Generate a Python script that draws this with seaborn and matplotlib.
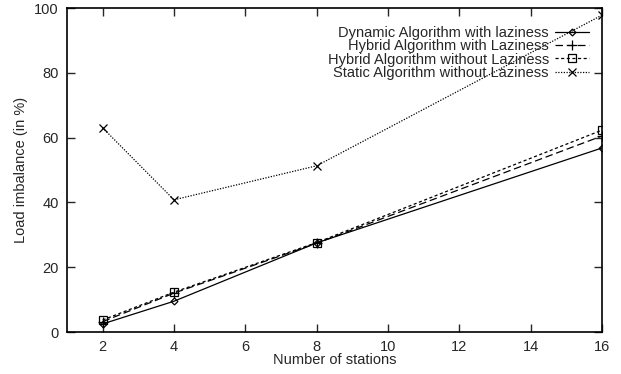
import matplotlib
matplotlib.use("Agg")
import matplotlib.pyplot as plt
import seaborn as sns
import pandas as pd

stations = [2, 4, 8, 16]
dynamic_lazy = [2.5, 9.5, 27.5, 56.8]
hybrid_lazy = [3.2, 12.0, 27.4, 60.5]
hybrid_nolazy = [3.7, 12.3, 27.6, 62.3]
static_nolazy = [63.0, 40.8, 51.3, 97.8]

labels = ["Dynamic Algorithm with laziness",
          "Hybrid Algorithm with Laziness",
          "Hybrid Algorithm without Laziness",
          "Static Algorithm without Laziness"]
x_ticks = [2, 4, 6, 8, 10, 12, 14, 16]
y_ticks = [0, 20, 40, 60, 80, 100]

sns.set_style("ticks")
plt.rcParams['font.family'] = ['Liberation Sans', 'DejaVu Sans']

fig = plt.figure(figsize=(6.21, 3.74), dpi=100)
ax = fig.add_axes([67/621, 1-332/374, (602-67)/621, (332-8)/374])

series = [dynamic_lazy, hybrid_lazy, hybrid_nolazy, static_nolazy]
styles = [
    dict(marker='D', markersize=3.5, dashes=None),
    dict(marker='+', markersize=7, dashes=(6, 3)),
    dict(marker='s', markersize=5.5, dashes=(2.5, 2)),
    dict(marker='x', markersize=6, dashes=(1, 1.2)),
]
for vals, lab, st in zip(series, labels, styles):
    df = pd.DataFrame({"x": stations, "y": vals})
    sns.lineplot(data=df, x="x", y="y", ax=ax, color='black', label=lab,
                 linewidth=0.9, marker=st['marker'], markersize=st['markersize'],
                 markerfacecolor='none', markeredgecolor='black',
                 markeredgewidth=0.9)
    l = ax.get_lines()[-1]
    if st['dashes'] is not None:
        l.set_dashes(st['dashes'])

ax.set_xlim(1, 16)
ax.set_ylim(0, 100)
ax.set_xticks(x_ticks)
ax.set_yticks(y_ticks)
ax.tick_params(direction='in', length=6, width=1, top=True, right=True,
               labelsize=10.5, pad=6)
for s in ax.spines.values():
    s.set_visible(True)
    s.set_linewidth(1.2)
    s.set_color('black')
ax.set_xlabel("Number of stations", fontsize=10.5, labelpad=-1)
ax.set_ylabel("Load imbalance (in %)", fontsize=10.5, labelpad=4)

leg = ax.legend(loc='upper right', bbox_to_anchor=(1.0, 0.985), markerfirst=False,
                frameon=False, fontsize=10.5, labelspacing=-0.05, handlelength=2.3,
                handletextpad=0.45, borderaxespad=0.4, borderpad=0.5)

fig.savefig("out.png", dpi=100)
